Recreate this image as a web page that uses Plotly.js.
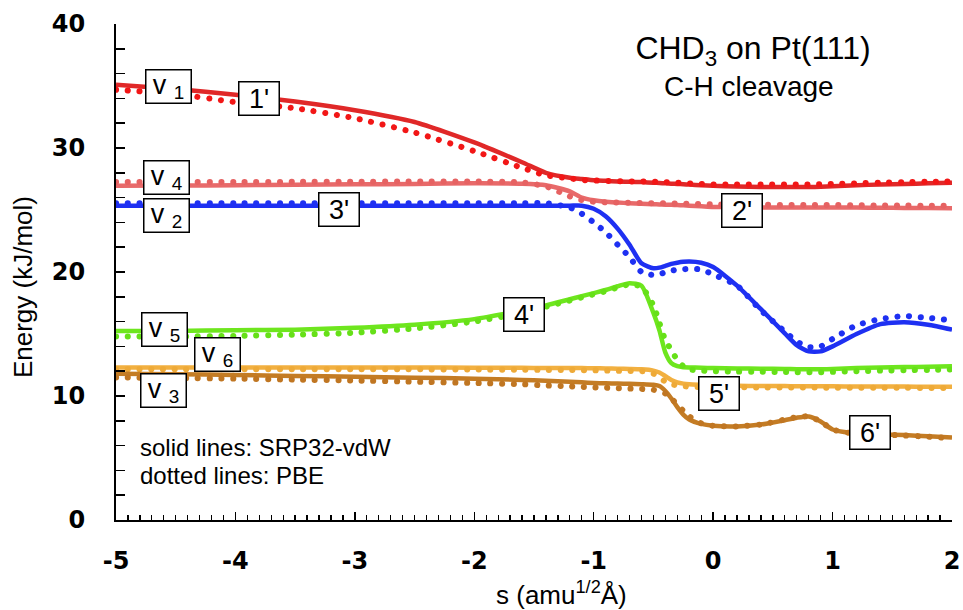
<!DOCTYPE html>
<html>
<head>
<meta charset="utf-8">
<script src="https://cdn.plot.ly/plotly-3.0.1.min.js"></script>
<style>
  html, body { margin: 0; padding: 0; background: #ffffff; }
  #chart { width: 963px; height: 610px; }
</style>
</head>
<body>
<div id="chart"></div>
<script>
// Reaction coordinate s (amu^1/2 Å), shared by every curve
const S = [-5, -4.5, -4, -3.5, -3, -2.5, -2, -1.6, -1.4, -1.2, -1.1, -1.0, -0.9, -0.8, -0.7, -0.6, -0.5,
           -0.45, -0.4, -0.35, -0.3, -0.25, -0.2, -0.1, 0, 0.2, 0.4, 0.6, 0.7, 0.8, 0.9, 1.0,
           1.2, 1.4, 1.6, 1.8, 2.0];

// Vibrationally adiabatic mode energies (kJ/mol), SRP32-vdW (solid) and PBE (dotted)
const nu1SRP = [35.1, 34.75, 34.3, 33.75, 33.05, 32.1, 30.45, 28.85, 28.0, 27.6, 27.5, 27.4, 27.35, 27.3, 27.28, 27.25, 27.2,
                27.18, 27.15, 27.12, 27.1, 27.08, 27.05, 27.0, 26.95, 26.9, 26.85, 26.85, 26.85, 26.85, 26.88, 26.92,
                27.0, 27.05, 27.1, 27.15, 27.2];
const nu1PBE = [34.7, 34.35, 33.7, 33.2, 32.4, 31.25, 29.75, 28.4, 27.8, 27.55, 27.42, 27.38, 27.35, 27.33, 27.3, 27.3, 27.28,
                27.27, 27.25, 27.22, 27.2, 27.18, 27.15, 27.1, 27.05, 27.05, 27.05, 27.05, 27.05, 27.05, 27.08, 27.1,
                27.15, 27.2, 27.25, 27.28, 27.3];

const nu4SRP = [26.95, 26.97, 27.0, 27.03, 27.07, 27.1, 27.15, 27.12, 27.0, 26.5, 26.0, 25.78, 25.66, 25.6, 25.55, 25.5, 25.47,
                25.45, 25.43, 25.42, 25.4, 25.38, 25.35, 25.3, 25.25, 25.22, 25.2, 25.2, 25.2, 25.2, 25.2, 25.2,
                25.2, 25.18, 25.17, 25.16, 25.15];
const nu4PBE = [27.25, 27.25, 27.25, 27.27, 27.28, 27.3, 27.3, 27.22, 26.9, 26.1, 25.8, 25.67, 25.62, 25.6, 25.58, 25.56, 25.55,
                25.55, 25.54, 25.53, 25.52, 25.51, 25.5, 25.48, 25.45, 25.43, 25.42, 25.41, 25.41, 25.4, 25.4, 25.4,
                25.38, 25.37, 25.36, 25.35, 25.35];

const nu2SRP = [25.35, 25.35, 25.35, 25.35, 25.35, 25.35, 25.35, 25.35, 25.35, 25.35, 25.35, 25.1, 24.5, 23.5, 22.2, 20.7, 20.3,
                20.35, 20.5, 20.65, 20.75, 20.82, 20.85, 20.75, 20.4, 18.9, 17.0, 15.05, 14.1, 13.6, 13.6, 14.0,
                15.0, 15.8, 15.95, 15.75, 15.35];
const nu2PBE = [25.55, 25.55, 25.55, 25.55, 25.55, 25.55, 25.55, 25.55, 25.55, 25.2, 24.7, 24.0, 23.2, 22.2, 21.2, 20.0, 19.75,
                19.8, 20.0, 20.1, 20.2, 20.22, 20.25, 20.2, 19.8, 18.9, 16.9, 15.2, 14.4, 13.95, 14.0, 14.6,
                15.7, 16.2, 16.45, 16.3, 16.1];

const nu5SRP = [15.25, 15.25, 15.3, 15.35, 15.5, 15.75, 16.2, 16.9, 17.3, 17.8, 18.05, 18.3, 18.55, 18.85, 19.1, 18.9, 16.7,
                15.3, 13.5, 12.65, 12.4, 12.32, 12.3, 12.28, 12.25, 12.22, 12.2, 12.18, 12.16, 12.15, 12.15, 12.18,
                12.25, 12.3, 12.33, 12.36, 12.4];
const nu5PBE = [14.8, 14.8, 14.85, 14.95, 15.1, 15.45, 16.0, 16.7, 17.2, 17.7, 17.95, 18.2, 18.45, 18.75, 19.0, 18.8, 17.3,
                15.9, 14.5, 13.7, 12.9, 12.4, 12.15, 12.05, 12.0, 11.97, 11.95, 11.93, 11.92, 11.92, 11.92, 11.95,
                12.0, 12.05, 12.08, 12.1, 12.15];

const nu6SRP = [12.3, 12.3, 12.3, 12.3, 12.3, 12.3, 12.28, 12.27, 12.26, 12.25, 12.25, 12.24, 12.22, 12.2, 12.18, 12.15, 12.05,
                11.9, 11.6, 11.3, 11.1, 11.0, 10.95, 10.9, 10.85, 10.82, 10.8, 10.8, 10.79, 10.79, 10.78, 10.78,
                10.77, 10.76, 10.76, 10.75, 10.75];
const nu6PBE = [12.15, 12.15, 12.15, 12.15, 12.15, 12.15, 12.13, 12.12, 12.1, 12.1, 12.08, 12.07, 12.05, 12.03, 12.02, 12.0, 11.8,
                11.5, 11.15, 10.95, 10.85, 10.8, 10.75, 10.72, 10.7, 10.7, 10.69, 10.69, 10.68, 10.68, 10.68, 10.67,
                10.67, 10.66, 10.66, 10.65, 10.65];

const nu3SRP = [11.8, 11.75, 11.7, 11.62, 11.55, 11.48, 11.4, 11.3, 11.22, 11.15, 11.1, 11.05, 11.02, 11.0, 10.98, 10.95, 10.9,
                10.8, 10.4, 9.8, 9.1, 8.5, 8.1, 7.75, 7.6, 7.55, 7.7, 8.05, 8.25, 8.35, 7.95, 7.3,
                6.95, 6.9, 6.85, 6.75, 6.65];
const nu3PBE = [11.5, 11.45, 11.4, 11.32, 11.25, 11.15, 11.05, 10.95, 10.85, 10.78, 10.74, 10.7, 10.67, 10.63, 10.6, 10.57, 10.5,
                10.4, 10.2, 9.8, 9.3, 8.8, 8.35, 7.8, 7.6, 7.55, 7.7, 8.1, 8.3, 8.35, 7.95, 7.3,
                6.95, 6.9, 6.82, 6.72, 6.6];

// Tick positions and their printed labels (plain hyphen minus)
const xTickVals = [-5, -4, -3, -2, -1, 0, 1, 2];
const xTickText = ['-5', '-4', '-3', '-2', '-1', '0', '1', '2'];
const yTickVals = [0, 10, 20, 30, 40];
const yTickText = ['0', '10', '20', '30', '40'];

// Curve labels: [text, s, E, box width]
const modeLabels = [
  ['v <sub>1</sub>', -4.56, 34.92, 42],
  ["1'", -3.80, 33.99, 37],
  ['v <sub>4</sub>', -4.58, 27.66, 42],
  ['v <sub>2</sub>', -4.58, 24.56, 42],
  ["3'", -3.13, 25.04, 37],
  ["2'", 0.24, 24.96, 37],
  ["4'", -1.58, 16.61, 37],
  ['v <sub>5</sub>', -4.59, 15.36, 42],
  ['v <sub>6</sub>', -4.15, 13.31, 42],
  ['v <sub>3</sub>', -4.60, 10.48, 42],
  ["5'", 0.05, 10.20, 37],
  ["6'", 1.31, 7.02, 37]
];

const curves = [
  { srp: nu1SRP, pbe: nu1PBE, solid: '#e02828', dots: '#f21616' },
  { srp: nu4SRP, pbe: nu4PBE, solid: '#e86a6a', dots: '#e66262' },
  { srp: nu2SRP, pbe: nu2PBE, solid: '#1e30f2', dots: '#1e30f2' },
  { srp: nu5SRP, pbe: nu5PBE, solid: '#6ee61e', dots: '#66e018' },
  { srp: nu6SRP, pbe: nu6PBE, solid: '#f2b040', dots: '#eeaa38' },
  { srp: nu3SRP, pbe: nu3PBE, solid: '#c47c24', dots: '#c07622' }
];

const traces = [];
curves.forEach(c => {
  traces.push({
    x: S, y: c.srp, mode: 'lines', type: 'scatter', hoverinfo: 'skip',
    line: { color: c.solid, width: 4.5, shape: 'spline', smoothing: 0.6 }
  });
  traces.push({
    x: S, y: c.pbe, mode: 'lines', type: 'scatter', hoverinfo: 'skip',
    line: { color: c.dots, width: 6, shape: 'spline', smoothing: 0.6, dash: '0.1px,11.6px' },
    meta: 'dotted'
  });
});

const txt = { family: 'Liberation Sans, Arial, sans-serif', color: '#000000' };

const annotations = modeLabels.map(([t, s, e, w]) => ({
  x: s, y: e, xref: 'x', yref: 'y', text: t, showarrow: false,
  xanchor: 'center', yanchor: 'middle', width: w, height: 30,
  bgcolor: '#ffffff', bordercolor: '#000000', borderwidth: 1.5, borderpad: 1,
  font: Object.assign({ size: 27 }, txt)
}));

annotations.push(
  { x: 0.757, y: 0.875, xref: 'paper', yref: 'paper', text: 'C-H cleavage', showarrow: false,
    xanchor: 'center', yanchor: 'middle', font: Object.assign({ size: 28 }, txt) },
  { x: 0.026, y: 0.147, xref: 'paper', yref: 'paper', text: 'solid lines: SRP32-vdW', showarrow: false,
    xanchor: 'left', yanchor: 'middle', font: Object.assign({ size: 24 }, txt) },
  { x: 0.026, y: 0.09, xref: 'paper', yref: 'paper', text: 'dotted lines: PBE', showarrow: false,
    xanchor: 'left', yanchor: 'middle', font: Object.assign({ size: 24 }, txt) },
  // axis titles
  { x: 0.533, y: -0.148, xref: 'paper', yref: 'paper', text: 's (amu<sup>1/2</sup>Å)', showarrow: false,
    xanchor: 'center', yanchor: 'middle', font: Object.assign({ size: 26 }, txt) },
  { x: -0.111, y: 0.47, xref: 'paper', yref: 'paper', text: 'Energy (kJ/mol)', showarrow: false,
    textangle: -90, xanchor: 'center', yanchor: 'middle', font: Object.assign({ size: 26 }, txt) }
);

const tickFont = { family: 'DejaVu Sans, sans-serif', size: 24, color: '#000000', weight: 'bold' };

const layout = {
  width: 963, height: 610,
  margin: { l: 116, r: 11, t: 24, b: 90 },
  paper_bgcolor: '#ffffff', plot_bgcolor: '#ffffff',
  showlegend: false,
  title: {
    text: 'CHD<sub>3</sub> on Pt(111)', xref: 'container', yref: 'container',
    x: 0.782, y: 0.921, xanchor: 'center', yanchor: 'middle',
    font: Object.assign({ size: 32 }, txt)
  },
  xaxis: {
    range: [-5, 2], showgrid: false, zeroline: false,
    showline: true, linecolor: '#000000', linewidth: 2, mirror: false,
    ticks: 'inside', ticklen: 8, tickwidth: 1.5, tickcolor: '#000000',
    tickmode: 'array', tickvals: xTickVals, ticktext: xTickText,
    tickfont: tickFont, ticklabelstandoff: 18,
    minor: { tickmode: 'linear', tick0: 0, dtick: 0.1, ticks: 'inside', ticklen: 5, tickwidth: 1.3,
             tickcolor: '#000000', showgrid: false }
  },
  yaxis: {
    range: [0, 40], showgrid: false, zeroline: false,
    showline: true, linecolor: '#000000', linewidth: 2, mirror: false,
    ticks: 'inside', ticklen: 9, tickwidth: 1.5, tickcolor: '#000000',
    tickmode: 'array', tickvals: yTickVals, ticktext: yTickText,
    tickfont: tickFont, ticklabelstandoff: 24,
    minor: { tickmode: 'linear', tick0: 0, dtick: 2, ticks: 'inside', ticklen: 9, tickwidth: 1.5,
             tickcolor: '#000000', showgrid: false }
  },
  annotations: annotations
};

Plotly.newPlot('chart', traces, layout, { staticPlot: true, displayModeBar: false }).then(gd => {
  // round caps turn the short dashes of the PBE curves into dots
  gd.querySelectorAll('.scatterlayer .trace').forEach((g, i) => {
    if (traces[i] && traces[i].meta === 'dotted') {
      g.querySelectorAll('path.js-line').forEach(p => p.style.strokeLinecap = 'round');
    }
  });
});
</script>
</body>
</html>
